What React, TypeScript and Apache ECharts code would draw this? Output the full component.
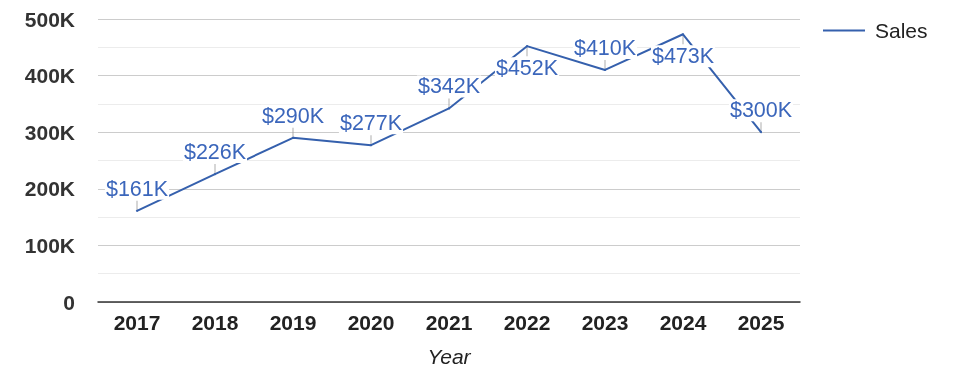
import React, { useEffect, useRef } from "react";
import * as echarts from "echarts";

const years = ["2017", "2018", "2019", "2020", "2021", "2022", "2023", "2024", "2025"];
const sales = [161000, 226000, 290000, 277000, 342000, 452000, 410000, 473000, 300000];
const labelBelow = [false, false, false, false, false, true, false, true, false];
const yTicks = { min: 0, max: 500000, interval: 100000 };

const FONT = "'Liberation Sans', Arial, sans-serif";
const LINE = "#3560ad";
const LABEL = "#3b66bb";

export default function App() {
  const ref = useRef<HTMLDivElement>(null);
  useEffect(() => {
    const chart = echarts.init(ref.current!, null, { renderer: "svg" });
    chart.setOption({
      animation: false,
      textStyle: { fontFamily: FONT },
      grid: { left: 98, right: 175, top: 19, bottom: 76, containLabel: false },
      legend: {
        data: [{ name: "Sales", icon: "rect" }],
        left: 818,
        top: 15,
        itemWidth: 42,
        itemHeight: 2,
        textStyle: { fontSize: 21, color: "#222", fontFamily: FONT, padding: [0, 0, 0, 5] },
      },
      xAxis: {
        type: "category",
        data: years,
        boundaryGap: true,
        name: "Year",
        nameLocation: "middle",
        nameGap: 44,
        nameTextStyle: { fontSize: 21, fontStyle: "italic", color: "#222", fontFamily: FONT },
        axisLine: { show: true, lineStyle: { color: "#333", width: 1.5 } },
        axisTick: { show: false },
        axisLabel: { fontSize: 21, fontWeight: "bold", color: "#222", margin: 10, fontFamily: FONT },
        splitLine: { show: false },
      },
      yAxis: {
        type: "value",
        min: yTicks.min,
        max: yTicks.max,
        interval: yTicks.interval,
        axisLine: { show: false },
        axisTick: { show: false },
        axisLabel: {
          fontSize: 21,
          fontWeight: "bold",
          color: "#333",
          margin: 23,
          fontFamily: FONT,
          formatter: (v: number) => (v === 0 ? "0" : v / 1000 + "K"),
        },
        splitLine: { show: true, lineStyle: { color: "#cccccc", width: 1 } },
        minorTick: { show: false, splitNumber: 2 },
        minorSplitLine: { show: true, lineStyle: { color: "#ececec", width: 1 } },
      },
      series: [
        {
          name: "Sales",
          type: "line",
          data: sales.map((v, i) => ({
            value: v,
            label: { position: labelBelow[i] ? "bottom" : "top" },
          })),
          showSymbol: true,
          showAllSymbol: true,
          symbol: "circle",
          symbolSize: 2,
          lineStyle: { color: LINE, width: 2 },
          itemStyle: { color: LINE },
          z: 2,
          label: {
            show: true,
            distance: 10,
            fontSize: 21.5,
            lineHeight: 20,
            color: LABEL,
            fontFamily: FONT,
            backgroundColor: "#fff",
            padding: [1, 1],
            formatter: (p: any) => "$" + Math.round(p.value / 1000) + "K",
          },
        },
        {
          name: "ticks",
          type: "scatter",
          data: sales.map((v, i) => ({
            value: v,
            symbolOffset: [0, labelBelow[i] ? "50%" : "-50%"],
          })),
          symbol: "rect",
          symbolSize: [1, 10],
          itemStyle: { color: "#999" },
          z: 1,
          silent: true,
        },
      ],
    });
    return () => chart.dispose();
  }, []);
  return <div ref={ref} style={{ position: "fixed", left: 0, top: 0, width: 975, height: 378 }} />;
}
